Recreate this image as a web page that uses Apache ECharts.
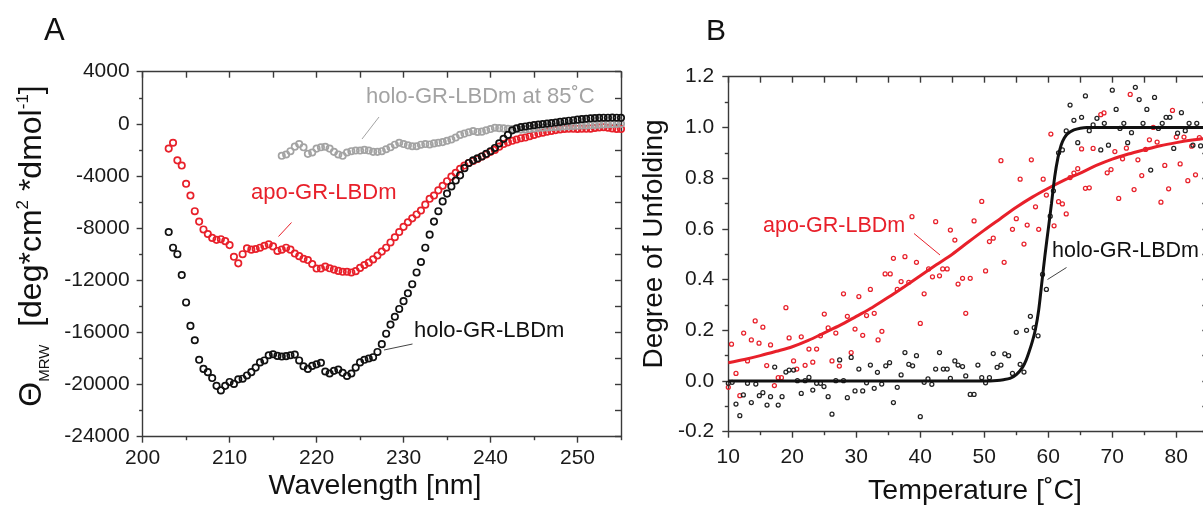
<!DOCTYPE html>
<html><head><meta charset="utf-8">
<script src="https://cdn.jsdelivr.net/npm/echarts@6/dist/echarts.min.js"></script>
<style>html,body{margin:0;padding:0;background:#fff}#c{width:1203px;height:506px}</style>
</head><body><div id="c"></div>
<script>
// ---------- Panel A : CD spectra ----------
const wavelengths = [203,203.5,204,204.5,205,205.5,206,206.5,207,207.5,
 208,208.5,209,209.5,210,210.5,211,211.5,212,212.5,
 213,213.5,214,214.5,215,215.5,216,216.5,217,217.5,
 218,218.5,219,219.5,220,220.5,221,221.5,222,222.5,
 223,223.5,224,224.5,225,225.5,226,226.5,227,227.5,
 228,228.5,229,229.5,230,230.5,231,231.5,232,232.5,
 233,233.5,234,234.5,235,235.5,236,236.5,237,237.5,
 238,238.5,239,239.5,240,240.5,241,241.5,242,242.5,
 243,243.5,244,244.5,245,245.5,246,246.5,247,247.5,
 248,248.5,249,249.5,250,250.5,251,251.5,252,252.5,
 253,253.5,254,254.5,255];
const holoCD = [-8300,-9500,-10000,-11600,-13700,-15500,-16600,-18100,-18800,-19050,
 -19500,-20100,-20450,-20100,-19800,-19950,-19600,-19550,-19300,-19050,
 -18700,-18300,-18150,-17750,-17680,-17800,-17850,-17820,-17750,-17700,
 -18150,-18600,-18800,-18570,-18450,-18330,-19000,-19150,-18950,-18850,
 -19100,-19340,-19150,-18700,-18300,-18100,-18000,-17900,-17500,-16900,
 -16100,-15400,-14800,-14200,-13600,-13000,-12300,-11400,-10600,-9500,
 -8500,-7500,-6700,-5950,-5350,-4800,-4350,-3950,-3400,-3000,
 -2800,-2650,-2500,-2300,-2100,-1850,-1500,-1150,-850,-500,
 -350,-250,-200,-150,-100,-50,-20,20,60,100,
 150,200,240,280,320,360,390,420,440,460,
 470,470,480,470,460];
const apoCD = [-1900,-1450,-2800,-3200,-4600,-5500,-6700,-7500,-8100,-8450,
 -8750,-8900,-8850,-9000,-9300,-10200,-10700,-10000,-9550,-9650,
 -9600,-9500,-9350,-9240,-9400,-9750,-9650,-9500,-9650,-9950,
 -10150,-10350,-10450,-10750,-11100,-11100,-10950,-11080,-11180,-11280,
 -11350,-11350,-11400,-11300,-11050,-10830,-10650,-10400,-10100,-9800,
 -9500,-9100,-8700,-8300,-7900,-7550,-7250,-6950,-6650,-6200,
 -5750,-5500,-5100,-4750,-4400,-4050,-3750,-3450,-3200,-3000,
 -2850,-2700,-2500,-2350,-2150,-2000,-1750,-1550,-1420,-1300,
 -1200,-1100,-1050,-950,-850,-750,-680,-600,-540,-480,
 -430,-390,-380,-380,-390,-380,-380,-370,-320,-280,
 -260,-300,-350,-390,-400];
const holo85Start = 216;
const holo85CD = [-2450,-2350,-2100,-1750,
 -1550,-1800,-2300,-2200,-1900,-1800,-1760,-1900,-2150,-2350,
 -2450,-2200,-2100,-2050,-2050,-2000,-2050,-2150,-2150,-2100,
 -1950,-1800,-1600,-1450,-1550,-1650,-1720,-1720,-1600,-1550,
 -1580,-1500,-1450,-1400,-1300,-1200,-1050,-850,-750,-650,
 -550,-620,-600,-500,-400,-300,-330,-350,-380,-400,
 -420,-440,-430,-400,-360,-320,-300,-280,-260,-240,
 -220,-200,-180,-160,-150,-130,-120,-100,-90,-70,
 -50,-30,-20,-10,0];
const cdXTicks = [200,210,220,230,240,250];
const cdXMinor = [205,215,225,235,245,255];
const cdYTicks = [-24000,-20000,-16000,-12000,-8000,-4000,0,4000];
const cdYMinor = [-22000,-18000,-14000,-10000,-6000,-2000,2000];

// ---------- Panel B : thermal unfolding ----------
const apoTemps = [10,10.5,11.2,11.8,12.4,13,13.6,14.2,14.8,15.4,16,16.6,17.2,17.8,18.3,19,19.5,20.2,20.7,21.4,
 22,22.6,23.2,23.8,24.4,25,25.6,26.2,26.8,27.35,28,28.6,29.2,29.8,30.4,31,31.6,32.2,32.8,33.4,
 34,34.5,35.3,35.8,36.4,37,37.6,38.2,38.7,39.4,40,40.6,41.3,41.9,42.4,43,43.5,44.2,44.7,45.4,
 45.9,46.6,47.1,47.8,48.4,49.6,50.2,50.8,51.4,52.6,53.1,54.4,55,55.6,56.2,56.7,57.35,58,58.5,59.2,
 59.7,60.4,60.9,61.6,62.2,62.8,63.4,64,64.6,65.2,65.8,66.4,67,68.2,68.7,69.2,69.8,70.4,71,71.6,
 72.2,72.8,73.4,74,74.6,75.2,75.8,76.4,77,77.6,78.2,78.8,79.4,80,80.6,81.2,81.8,82.4,83,83.6];
const apoUnfold = [-0.025,0.145,0.03,-0.058,0.189,0.079,0.162,0.237,0.149,0.212,0.061,0.142,-0.018,0.013,0.013,0.289,0.17,0.079,0.047,0.174,
 0.062,0.126,0.074,0.126,0.178,0.264,0.209,0.079,0.189,0.059,0.344,0.255,0.112,0.205,0.333,0.18,0.258,0.361,0.267,0.162,
 0.196,0.422,0.422,0.484,0.361,0.392,0.49,0.389,0.648,0.468,0.227,0.344,0.442,0.411,0.628,0.415,0.442,0.442,0.595,0.556,
 0.382,0.405,0.267,0.405,0.631,0.708,0.434,0.55,0.563,0.869,0.468,0.598,0.64,0.796,0.54,0.615,0.872,0.687,0.598,0.796,
 0.733,0.974,0.612,0.707,0.698,0.659,0.802,0.82,0.837,0.915,0.76,0.762,0.917,1.05,1.057,0.821,0.834,0.905,0.72,0.876,
 0.918,1.13,0.755,0.872,0.81,0.913,0.951,1.0,0.942,0.705,0.85,0.758,1.067,0.962,0.856,0.962,0.79,0.926,0.813,0.96];
const holoTemps = [10,10.6,11.2,11.8,12.35,13,13.6,14.3,14.85,15.4,16.05,16.6,17.25,17.8,18.4,19,19.5,20.2,20.8,21.4,
 22,22.6,23.2,23.8,24.4,24.95,25.6,26.2,26.8,27.4,28,28.6,29.2,29.8,30.4,31,31.6,32.2,32.8,33.3,
 33.97,34.6,35.2,35.8,36.4,37,37.6,38.2,38.8,39.4,40,40.6,41.2,41.8,42.4,43,43.6,44.2,44.7,45.4,
 45.9,46.6,47.1,47.8,48.4,49,49.6,50.2,50.8,51.4,52,52.6,53.2,53.8,54.4,55,55.6,56.2,56.6,57.2,
 57.8,58.4,59.1,59.7,60.3,60.8,61.6,62.2,62.8,63.4,64,64.6,65.2,65.8,66.4,67,67.6,68.2,68.75,69.4,
 70,70.6,71.2,71.8,72.4,73,73.6,74.2,74.8,75.4,76,76.6,77.2,77.8,78.4,79,79.6,80.2,80.8,81.4,
 82,82.6,83.2,83.8];
const holoUnfold = [-0.009,-0.005,-0.091,-0.137,-0.055,-0.009,-0.085,-0.012,-0.058,-0.046,-0.095,-0.062,0.055,-0.095,-0.062,0.035,0.043,0.043,0.001,-0.049,
 0.001,0.014,-0.036,-0.009,-0.009,-0.022,-0.062,-0.131,0.001,0.083,0.001,-0.066,0.093,-0.039,0.047,-0.039,-0.007,0.063,-0.029,0.034,
 -0.012,0.06,0.072,-0.085,-0.025,0.024,0.112,0.066,0.06,0.1,-0.141,-0.005,0.008,-0.013,0.047,0.112,0.047,0.047,0.01,0.079,
 0.063,0.057,0.02,-0.053,-0.053,0.063,0.013,-0.007,0.013,0.108,0.054,0.063,0.107,0.1,0.03,0.192,0.066,0.035,0.2,0.255,
 0.21,0.178,0.42,0.361,0.65,0.75,0.9,0.911,0.986,1.088,1.028,0.94,1.04,1.124,0.987,1.01,1.036,0.911,1.016,0.93,
 1.147,1.071,0.996,1.016,0.94,0.979,1.158,1.11,1.016,1.071,0.832,1.118,0.996,1.016,1.04,1.04,0.917,0.977,1.058,0.987,
 1.016,0.93,1.016,0.927];
const apoFitTemps = [10,12.5,15,17.5,20,22.5,25,27.5,30,32.5,35,37.5,40,42.5,45,47.5,50,52.5,55,57.5,60,62.5,65,67.5,70,72.5,75,77.5,80,82.5,85];
const apoFitValues = [0.072,0.085,0.1,0.117,0.135,0.16,0.19,0.22,0.255,0.29,0.33,0.372,0.415,0.458,0.5,0.548,0.595,0.64,0.685,0.725,0.76,0.792,0.82,0.85,0.875,0.895,0.912,0.928,0.94,0.95,0.957];
const holoFitTemps = [10,20,30,40,50,52,53,54,55,56,56.5,57,57.5,58,58.5,59,59.5,60,60.5,61,61.5,62,62.5,63,64,65,66,70,80,85];
const holoFitValues = [0,0,0,0,0,0.002,0.005,0.01,0.025,0.055,0.08,0.115,0.155,0.205,0.28,0.39,0.5,0.6,0.7,0.805,0.88,0.93,0.958,0.975,0.99,0.997,1,1,1,1];
const tmXTicks = [10,20,30,40,50,60,70,80];
const tmXMinor = [15,25,35,45,55,65,75,85];
const tmYTicks = [-0.2,0,0.2,0.4,0.6,0.8,1.0,1.2];
const tmYMinor = [-0.1,0.1,0.3,0.5,0.7,0.9,1.1];

// ---------- styling ----------
const RED = '#e8202a', GRAY = '#a3a3a3', BLACK = '#111111', AX = '#3a3a3a';
const FONT = "'Liberation Sans', Arial, Helvetica, sans-serif";

function axisSet(dim, grid, min, max, major, minor, labelCfg) {
  const base = {type:'value', gridIndex:grid, min:min, max:max, splitLine:{show:false}, silent:true, scale:false};
  const pos = dim === 'x' ? ['bottom','top'] : ['left','right'];
  const ls = {color:AX, width:1.4};
  return [
    Object.assign({}, base, {position:pos[0],
      axisLine:{show:true, onZero:false, lineStyle:ls},
      axisTick:{show:true, inside:false, length:6, customValues:major, lineStyle:ls},
      axisLabel:Object.assign({show:true, customValues:major, fontSize:21, color:'#1a1a1a', fontFamily:FONT, formatter: v => String(v)}, labelCfg)}),
    Object.assign({}, base, {position:pos[0],
      axisLine:{show:false, onZero:false},
      axisTick:{show:true, inside:false, length:3.5, customValues:minor, lineStyle:ls},
      axisLabel:{show:false}}),
    Object.assign({}, base, {position:pos[1],
      axisLine:{show:true, onZero:false, lineStyle:ls},
      axisTick:{show:true, inside:true, length:6, customValues:major.concat(minor), lineStyle:ls},
      axisLabel:{show:false}})
  ];
}

const pairs = (xs, ys) => ys.map((v, i) => [xs[i], v]);
const holo85Wl = wavelengths.filter(w => w >= holo85Start);

const openCircle = (col, size, bw) => ({type:'scatter', symbol:'circle', symbolSize:size, silent:true,
  itemStyle:{color:'rgba(255,255,255,0)', borderColor:col, borderWidth:bw, opacity:1}});

const chart = echarts.init(document.getElementById('c'), null, {renderer:'canvas'});
chart.setOption({
  animation:false,
  backgroundColor:'#ffffff',
  grid:[
    {left:142.6, top:71.7, width:478.4, height:365, outerBoundsMode:'none', containLabel:false},
    {left:728.3, top:76.7, width:480, height:355, outerBoundsMode:'none', containLabel:false}
  ],
  xAxis: [].concat(
    axisSet('x', 0, 200, 255, cdXTicks, cdXMinor, {margin:11}),
    axisSet('x', 1, 10, 85, tmXTicks, tmXMinor, {margin:15})
  ),
  yAxis: [].concat(
    axisSet('y', 0, -24000, 4000, cdYTicks, cdYMinor, {margin:13}),
    axisSet('y', 1, -0.2, 1.2, tmYTicks, tmYMinor, {margin:14, formatter: v => v.toFixed(1)})
  ),
  series:[
    Object.assign(openCircle(RED, 6.4, 1.7), {name:'apo-GR-LBDm', xAxisIndex:0, yAxisIndex:0, data:pairs(wavelengths, apoCD), z:2}),
    Object.assign(openCircle(GRAY, 6.4, 1.7), {name:'holo-GR-LBDm at 85°C', xAxisIndex:0, yAxisIndex:0, data:pairs(holo85Wl, holo85CD), z:3}),
    Object.assign(openCircle(BLACK, 6.4, 1.7), {name:'holo-GR-LBDm', xAxisIndex:0, yAxisIndex:0, data:pairs(wavelengths, holoCD), z:4}),
    Object.assign(openCircle(RED, 4, 1.25), {name:'apo Tm', xAxisIndex:3, yAxisIndex:3, data:pairs(apoTemps, apoUnfold), z:2}),
    Object.assign(openCircle('#222', 4, 1.25), {name:'holo Tm', xAxisIndex:3, yAxisIndex:3, data:pairs(holoTemps, holoUnfold), z:2}),
    {type:'line', name:'apo fit', xAxisIndex:3, yAxisIndex:3, data:pairs(apoFitTemps, apoFitValues), showSymbol:false, smooth:0.3, silent:true, lineStyle:{color:RED, width:3}, z:5},
    {type:'line', name:'holo fit', xAxisIndex:3, yAxisIndex:3, data:pairs(holoFitTemps, holoFitValues), showSymbol:false, smooth:0.25, silent:true, lineStyle:{color:BLACK, width:3}, z:6}
  ],
  graphic:[
    {type:'text', x:44, y:31, silent:true, style:{text:'A', fontSize:31, fontFamily:FONT, fill:'#111', align:'left', verticalAlign:'middle'}},
    {type:'text', x:706, y:32, silent:true, style:{text:'B', fontSize:30, fontFamily:FONT, fill:'#111', align:'left', verticalAlign:'middle'}},
    {type:'text', x:366, y:97, silent:true, style:{text:'holo-GR-LBDm at 85˚C', fontSize:22, fontFamily:FONT, fill:GRAY, align:'left', verticalAlign:'middle'}},
    {type:'line', silent:true, shape:{x1:379, y1:117, x2:362, y2:139}, style:{stroke:GRAY, lineWidth:1}},
    {type:'text', x:251, y:193, silent:true, style:{text:'apo-GR-LBDm', fontSize:22, fontFamily:FONT, fill:RED, align:'left', verticalAlign:'middle'}},
    {type:'line', silent:true, shape:{x1:291.5, y1:222.5, x2:278.5, y2:236.5}, style:{stroke:RED, lineWidth:1}},
    {type:'text', x:414, y:331, silent:true, style:{text:'holo-GR-LBDm', fontSize:22, fontFamily:FONT, fill:'#111', align:'left', verticalAlign:'middle'}},
    {type:'line', silent:true, shape:{x1:412.5, y1:344, x2:384, y2:350}, style:{stroke:'#444', lineWidth:1}},
    {type:'text', x:763, y:226, silent:true, style:{text:'apo-GR-LBDm', fontSize:21.5, fontFamily:FONT, fill:RED, align:'left', verticalAlign:'middle'}},
    {type:'line', silent:true, shape:{x1:914, y1:233.5, x2:940, y2:255}, style:{stroke:RED, lineWidth:1}},
    {type:'text', x:1052, y:251, silent:true, style:{text:'holo-GR-LBDm', fontSize:21.5, fontFamily:FONT, fill:'#111', align:'left', verticalAlign:'middle'}},
    {type:'line', silent:true, shape:{x1:1066.5, y1:267.5, x2:1047.5, y2:279.5}, style:{stroke:'#444', lineWidth:1}},
    {type:'text', x:375, y:486, silent:true, style:{text:'Wavelength [nm]', fontSize:28.5, fontFamily:FONT, fill:'#111', align:'center', verticalAlign:'middle'}},
    {type:'text', x:975, y:491, silent:true, style:{text:'Temperature [˚C]', fontSize:28.5, fontFamily:FONT, fill:'#111', align:'center', verticalAlign:'middle'}},
    {type:'text', x:654, y:244, rotation:Math.PI/2, silent:true, style:{text:'Degree of Unfolding', fontSize:28, fontFamily:FONT, fill:'#111', align:'center', verticalAlign:'middle'}},
    {type:'text', x:32, y:246, rotation:Math.PI/2, silent:true, style:{
      text:'{m|Θ}{s|MRW}{m|  [deg*cm}{p|2}{m| *dmol}{p|-1}{m|]}',
      align:'center', verticalAlign:'middle', fill:'#111', fontFamily:FONT,
      rich:{
        m:{fontSize:32, lineHeight:40, verticalAlign:'middle', fontFamily:FONT, fill:'#111'},
        s:{fontSize:15, lineHeight:16, verticalAlign:'bottom', fontFamily:FONT, fill:'#111'},
        p:{fontSize:17, lineHeight:20, verticalAlign:'top', padding:[3,0,0,0], fontFamily:FONT, fill:'#111'}
      }}}
  ]
});
</script></body></html>
